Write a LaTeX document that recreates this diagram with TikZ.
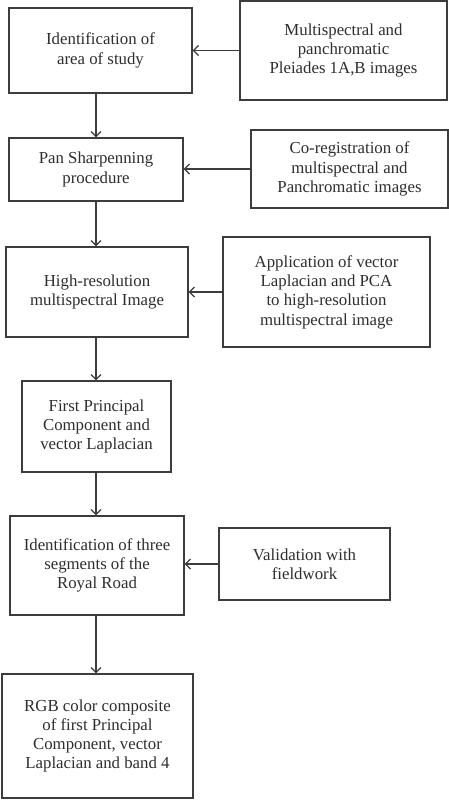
\documentclass[tikz,border=0pt]{standalone}
\usepackage{fontspec}
\setmainfont{Liberation Serif}
\usetikzlibrary{arrows.meta}
\definecolor{ln}{HTML}{3C3C3C}
\definecolor{tx}{HTML}{2E2E2E}
\tikzset{
  box/.style={draw=ln, line width=1.3bp, align=center, text=tx, inner sep=2bp,
    font=\fontsize{16.8bp}{19.3bp}\selectfont},
  arr/.style={draw=ln, line width=1.3bp, -{Straight Barb[length=5bp,width=10bp,line width=1.2bp]}}
}
\begin{document}
\begin{tikzpicture}[x=1bp,y=-1bp]
\useasboundingbox[fill=white] (0,0) rectangle (449,800);
\coordinate (col) at (96,0);
\node[box, minimum width=183bp, minimum height=85bp] (b1) at (100.5,50.5) {Identification of\\area of study};
\node[box, minimum width=207bp, minimum height=99bp] (b2) at (343.5,50.5) {Multispectral and\\panchromatic\\Pleiades 1A,B images};
\node[box, minimum width=174bp, minimum height=63bp] (b3) at (96,169.5) {Pan Sharpenning\\procedure};
\node[box, minimum width=197bp, minimum height=78bp] (b4) at (349.5,169) {Co-registration of\\multispectral and\\Panchromatic images};
\node[box, minimum width=182bp, minimum height=90bp] (b5) at (97,292) {High-resolution\\multispectral Image};
\node[box, minimum width=207bp, minimum height=110bp] (b6) at (326.5,292) {Application of vector\\Laplacian and PCA\\to high-resolution\\multispectral image};
\node[box, minimum width=149bp, minimum height=91bp] (b7) at (96.5,426.5) {First Principal\\Component and\\vector Laplacian};
\node[box, minimum width=174bp, minimum height=99bp] (b8) at (97,565.5) {Identification of three\\segments of the\\Royal Road};
\node[box, minimum width=171bp, minimum height=72bp] (b9) at (304.5,564) {Validation with\\fieldwork};
\node[box, minimum width=191bp, minimum height=124bp] (b10) at (97.5,736) {RGB color composite\\of first Principal\\Component, vector\\Laplacian and band 4};
\draw[arr] (b1.south -| col) -- (b3.north -| col);
\draw[arr] (b3.south -| col) -- (b5.north -| col);
\draw[arr] (b5.south -| col) -- (b7.north -| col);
\draw[arr] (b7.south -| col) -- (b8.north -| col);
\draw[arr] (b8.south -| col) -- (b10.north -| col);
\draw[arr] (b2.west) -- (b2.west -| b1.east);
\draw[arr] (b4.west) -- (b4.west -| b3.east);
\draw[arr] (b6.west) -- (b6.west -| b5.east);
\draw[arr] (b9.west) -- (b9.west -| b8.east);
\end{tikzpicture}
\end{document}
